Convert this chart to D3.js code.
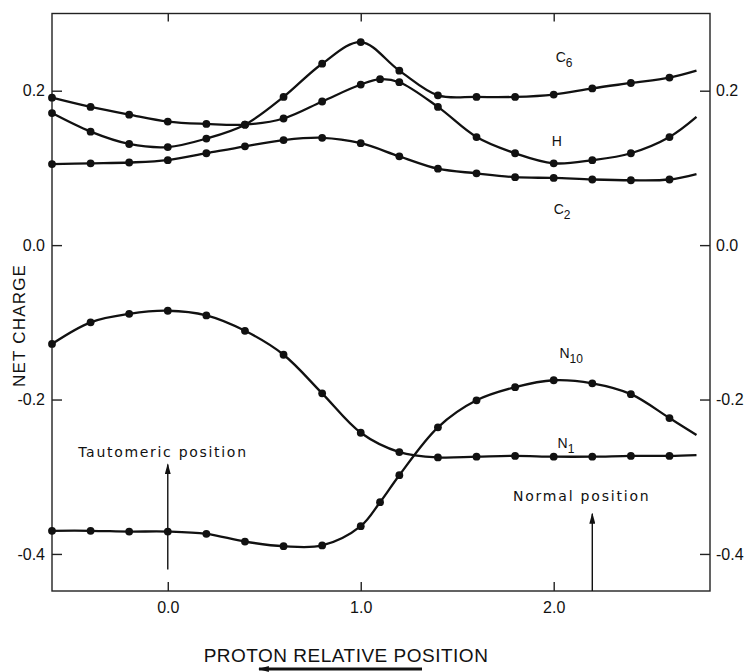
<!DOCTYPE html>
<html>
<head>
<meta charset="utf-8">
<script src="https://cdn.jsdelivr.net/npm/d3@7"></script>
<style>
  body { margin: 0; background: #fff; }
  svg { display: block; }
  text { fill: #111; }
</style>
</head>
<body>
<div id="chart"></div>
<script>
// x positions of the computed points (proton relative position)
const xGrid = [-0.6, -0.4, -0.2, 0.0, 0.2, 0.4, 0.6, 0.8, 1.0, 1.2, 1.4, 1.6, 1.8, 2.0, 2.2, 2.4, 2.6];
// H and N10 have one extra point at 1.1
const xGridMid = [-0.6, -0.4, -0.2, 0.0, 0.2, 0.4, 0.6, 0.8, 1.0, 1.1, 1.2, 1.4, 1.6, 1.8, 2.0, 2.2, 2.4, 2.6];
// curves are drawn a little past the last point
const xEnd = 2.74;

// net charges
const c6 = [0.171, 0.147, 0.131, 0.127, 0.138, 0.156, 0.192, 0.235, 0.263, 0.226, 0.194, 0.192, 0.192, 0.195, 0.203, 0.210, 0.217];
const c6End = 0.226;
const hAtom = [0.191, 0.179, 0.169, 0.160, 0.157, 0.156, 0.164, 0.186, 0.208, 0.215, 0.211, 0.179, 0.140, 0.119, 0.106, 0.110, 0.119, 0.140];
const hEnd = 0.166;
const c2 = [0.105, 0.106, 0.107, 0.110, 0.119, 0.128, 0.136, 0.139, 0.132, 0.115, 0.099, 0.093, 0.088, 0.087, 0.085, 0.084, 0.085];
const c2End = 0.092;
const n1 = [-0.128, -0.100, -0.089, -0.085, -0.091, -0.111, -0.142, -0.192, -0.243, -0.268, -0.275, -0.274, -0.273, -0.274, -0.274, -0.273, -0.273];
const n1End = -0.272;
const n10 = [-0.370, -0.370, -0.371, -0.371, -0.374, -0.384, -0.390, -0.389, -0.364, -0.333, -0.298, -0.236, -0.201, -0.184, -0.175, -0.179, -0.193, -0.224];
const n10End = -0.246;

// axis ticks
const xTicks = [0, 1, 2];
const xTickLabels = ["0.0", "1.0", "2.0"];
const yTicks = [-0.4, -0.2, 0.0, 0.2];
const yTickLabels = ["-0.4", "-0.2", "0.0", "0.2"];

const series = [
  {name: "C", sub: "6", xs: xGrid, ys: c6, end: c6End, lx: 2.01, ly: 0.237},
  {name: "H", sub: "", xs: xGridMid, ys: hAtom, end: hEnd, lx: 1.99, ly: 0.129},
  {name: "C", sub: "2", xs: xGrid, ys: c2, end: c2End, lx: 2.0, ly: 0.040},
  {name: "N", sub: "1", xs: xGrid, ys: n1, end: n1End, lx: 2.02, ly: -0.263},
  {name: "N", sub: "10", xs: xGridMid, ys: n10, end: n10End, lx: 2.03, ly: -0.146}
];

const width = 745, height = 672;
const margin = {top: 13.5, right: 35, bottom: 81, left: 52};

const x = d3.scaleLinear().domain([-0.6, 2.81]).range([margin.left, width - margin.right]);
const y = d3.scaleLinear().domain([-0.448, 0.300]).range([height - margin.bottom, margin.top]);

const svg = d3.select("#chart").append("svg")
    .attr("width", width)
    .attr("height", height)
    .attr("viewBox", [0, 0, width, height]);

const labelFont = "'Liberation Sans Narrow', 'Liberation Sans', Arial, sans-serif";
const titleFont = "'Liberation Sans', Arial, sans-serif";

// frame
svg.append("rect")
    .attr("x", x.range()[0])
    .attr("y", y.range()[1])
    .attr("width", x.range()[1] - x.range()[0])
    .attr("height", y.range()[0] - y.range()[1])
    .attr("fill", "none")
    .attr("stroke", "#222")
    .attr("stroke-width", 1.4);

// axes, ticks pointing inward
function styleAxis(g) {
  g.select(".domain").remove();
  g.selectAll(".tick line").attr("stroke", "#222").attr("stroke-width", 1.4);
  g.selectAll(".tick text")
    .attr("font-family", labelFont)
    .attr("font-size", 16)
    .attr("fill", "#111");
}

svg.append("g")
    .attr("transform", `translate(0,${y.range()[0]})`)
    .call(d3.axisBottom(x).tickValues(xTicks).tickSize(-9).tickPadding(11)
      .tickFormat((d, i) => xTickLabels[i]))
    .call(styleAxis);

svg.append("g")
    .attr("transform", `translate(0,${y.range()[1]})`)
    .call(d3.axisTop(x).tickValues(xTicks).tickSize(-8).tickFormat(""))
    .call(styleAxis);

svg.append("g")
    .attr("transform", `translate(${x.range()[0]},0)`)
    .call(d3.axisLeft(y).tickValues(yTicks).tickSize(-10).tickPadding(7)
      .tickFormat((d, i) => yTickLabels[i]))
    .call(styleAxis);

svg.append("g")
    .attr("transform", `translate(${x.range()[1]},0)`)
    .call(d3.axisRight(y).tickValues(yTicks).tickSize(-10).tickPadding(6)
      .tickFormat((d, i) => yTickLabels[i]))
    .call(styleAxis);

// curves
const line = d3.line()
    .x(d => x(d[0]))
    .y(d => y(d[1]))
    .curve(d3.curveCatmullRom.alpha(0.5));

const curves = svg.append("g");

series.forEach(s => {
  const pts = s.xs.map((xv, i) => [xv, s.ys[i]]);
  curves.append("path")
      .datum(pts.concat([[xEnd, s.end]]))
      .attr("d", line)
      .attr("fill", "none")
      .attr("stroke", "#111")
      .attr("stroke-width", 2.3);

  curves.selectAll(null)
    .data(pts)
    .join("circle")
      .attr("cx", d => x(d[0]))
      .attr("cy", d => y(d[1]))
      .attr("r", 3.9)
      .attr("fill", "#111");

  const t = svg.append("text")
      .attr("x", x(s.lx))
      .attr("y", y(s.ly))
      .attr("font-family", titleFont)
      .attr("font-size", 14);
  t.append("tspan").text(s.name);
  if (s.sub) {
    t.append("tspan")
        .attr("dy", 5)
        .attr("font-size", 12)
        .text(s.sub);
  }
});

// arrow heads
svg.append("defs").append("marker")
    .attr("id", "head")
    .attr("viewBox", "0 0 10 10")
    .attr("refX", 9)
    .attr("refY", 5)
    .attr("markerWidth", 11)
    .attr("markerHeight", 6)
    .attr("markerUnits", "userSpaceOnUse")
    .attr("orient", "auto")
    .attr("preserveAspectRatio", "none")
  .append("path")
    .attr("d", "M0,0L10,5L0,10z")
    .attr("fill", "#111");

const annFont = "'DejaVu Sans', sans-serif";

// tautomeric position
svg.append("line")
    .attr("x1", x(0)).attr("x2", x(0))
    .attr("y1", y(-0.42)).attr("y2", y(-0.284))
    .attr("stroke", "#111").attr("stroke-width", 1.4)
    .attr("marker-end", "url(#head)");
svg.append("text")
    .attr("x", x(-0.025))
    .attr("y", y(-0.275))
    .attr("text-anchor", "middle")
    .attr("font-family", annFont)
    .attr("font-size", 14)
    .attr("letter-spacing", 1.7)
    .text("Tautomeric position");

// normal position
svg.append("line")
    .attr("x1", x(2.2)).attr("x2", x(2.2))
    .attr("y1", y.range()[0]).attr("y2", y(-0.348))
    .attr("stroke", "#111").attr("stroke-width", 1.4)
    .attr("marker-end", "url(#head)");
svg.append("text")
    .attr("x", x(2.145))
    .attr("y", y(-0.332))
    .attr("text-anchor", "middle")
    .attr("font-family", annFont)
    .attr("font-size", 14)
    .attr("letter-spacing", 1.8)
    .text("Normal position");

// y axis title
svg.append("text")
    .attr("transform", `translate(25,${y(-0.104)}) rotate(-90)`)
    .attr("text-anchor", "middle")
    .attr("font-family", titleFont)
    .attr("font-size", 17)
    .attr("letter-spacing", 1.2)
    .text("NET  CHARGE");

// x axis title and direction arrow
svg.append("text")
    .attr("x", 346)
    .attr("y", 662)
    .attr("text-anchor", "middle")
    .attr("font-family", titleFont)
    .attr("font-size", 19)
    .attr("letter-spacing", 0.5)
    .text("PROTON  RELATIVE  POSITION");

svg.append("line")
    .attr("x1", 422).attr("x2", 259)
    .attr("y1", 669).attr("y2", 669)
    .attr("stroke", "#111").attr("stroke-width", 3)
    .attr("marker-end", "url(#head)");
</script>
</body>
</html>
